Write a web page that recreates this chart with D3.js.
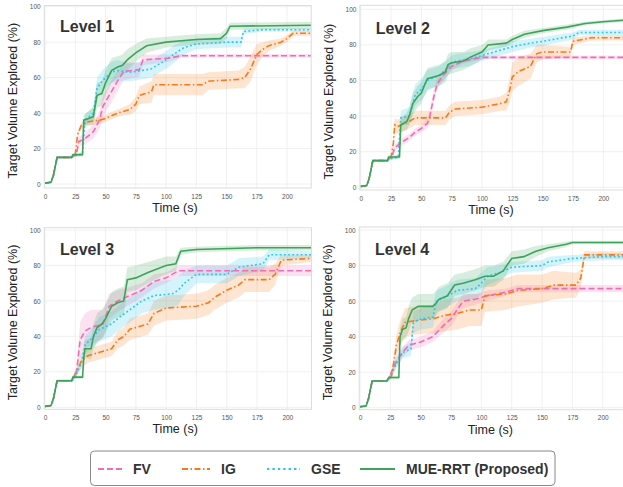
<!DOCTYPE html>
<html>
<head>
<meta charset="utf-8">
<script src="https://cdn.jsdelivr.net/npm/d3@7"></script>
<style>
body { margin: 0; background: #fff; }
svg { display: block; }
text { font-family: "Liberation Sans", Arial, sans-serif; }
</style>
</head>
<body>
<svg id="chart"></svg>
<script>
// each point: [time (s), mean explored (%), spread (%)]
const warmup = [[0,0.5,0],[5,1,0],[7,5,0.5],[10,15,0.5],[22,15,0.5]]

const L1_FV  = [[26,17,1],[28,24,3],[32,25,3],[40,29.5,4],[45,36,5],[48,44,6],[54,51,6],[59,57,6],[65,63.5,5],[78,64.5,4],[81,70,3],[103,71,2],[112,72.3,1],[220,72.3,1]]
const L1_IG  = [[25,17,1],[27,28,2],[30,33,2],[35,35,2],[45,36,2],[50,37,2],[60,40,2],[70,42,3],[75,45,4],[78,50,5],[88,52,6],[90,56,6],[130,56,6],[135,58,5],[160,59,5],[165,60,6],[170,65,7],[175,73,6],[180,76,4],[185,78,3],[195,80,2],[200,82,2],[205,85,1.5],[220,85,1.5]]
const L1_GSE = [[24,16,1],[31,17,1],[33,36,3],[40,40,4],[43,54,6],[46,57,6],[50,60,6],[55,63,6],[60,64,6],[70,63,5],[80,64,5],[88,65,5],[100,70,5],[106,73,5],[115,77,4],[125,79,3],[150,80,3],[162,80,3],[164,86,1.5],[180,87,1],[220,87,1]]
const L1_MUE = [[23,16.5,1],[31,16.5,1],[32,36,3],[36,37,4],[40,38,5],[43,50,7],[47,51,7],[50,57,7],[55,64,7],[60,66,6],[64,67,6],[68,70,6],[75,74,5],[84,78,4],[100,80,3],[125,81.5,3],[145,82,3],[150,85,3],[153,89,2],[220,89.5,2]]

const L2_FV  = [[26,18,1],[28,22,2],[33,25,2],[40,28,2],[45,31,2],[50,33,2],[55,36,3],[57,40,3],[60,50,4],[63,58,3],[68,63,3],[75,68,2],[85,71,1.5],[100,73,1],[220,73,1]]
const L2_IG  = [[25,17,1],[27,25,3],[28,35,4],[30,34,4],[40,37,4],[45,39,4],[70,39,4],[73,42,4],[78,44,4],[100,45,4],[115,47,4],[120,48,5],[123,55,7],[125,62,8],[130,65,8],[140,68,7],[145,75,5],[150,76,4],[173,76,3],[175,82,2],[190,84,1.5],[220,84,1.5]]
const L2_GSE = [[24,16,1],[31,17,1],[33,39,4],[40,40,5],[45,52,6],[50,55,6],[55,60,6],[65,63,5],[70,66,5],[75,70,4],[80,71,4],[90,72,4],[100,74,3],[110,76,3],[125,79,3],[140,81,2.5],[150,82,2.5],[175,85,2],[180,87,1.5],[220,87,1.5]]
const L2_MUE = [[23,17,1],[32,17,1],[33,35,4],[38,37,5],[40,40,5],[43,47,6],[47,51,6],[50,53,6],[53,58,6],[55,61,6],[60,62,6],[65,63,6],[70,65,6],[72,69,6],[75,70,6],[85,71,5],[90,73,5],[100,76,4],[105,80,3],[120,81,2],[125,83,2],[135,86,2],[150,88,1.5],[170,90,1.5],[185,92,1],[200,93,1],[220,94,1]]

const L3_FV  = [[26,20,3],[29,38,10],[33,43,10],[38,45,10],[48,47,8],[53,57,7],[60,60,6],[70,63,5],[80,66,4],[90,71,4],[100,73,3],[110,77,3],[220,77,3]]
const L3_IG  = [[26,20,2],[30,26,4],[35,29,4],[45,31,4],[55,33,4],[60,38,5],[65,40,5],[70,44,6],[80,46,6],[85,47,6],[90,53,7],[100,56,7],[125,57,7],[135,59,7],[140,62,7],[150,66,7],[160,69,7],[165,72,7],[185,72,7],[190,75,6],[195,83,3],[220,84,2]]
const L3_GSE = [[24,16,1],[30,25,3],[33,35,5],[40,40,6],[45,44,7],[55,47,7],[60,50,7],[70,55,7],[80,60,7],[90,63,8],[105,64,8],[110,66,8],[115,70,7],[125,75,5],[150,75,5],[155,77,5],[160,79,5],[180,81,4],[185,86,3],[220,86,2]]
const L3_MUE = [[23,17,1],[31,17,1],[32,28,3],[33,33,5],[38,33,6],[40,40,7],[43,45,8],[47,47,8],[50,50,8],[55,57,8],[60,59,8],[65,60,8],[68,72,7],[75,73,7],[85,76,6],[100,80,5],[108,81,4],[112,88,2],[125,89,1.5],[175,90,1.5],[220,90,1.5]]

const L4_FV  = [[26,20,2],[30,26,3],[35,31,3],[40,35,3],[50,37,3],[60,40,3],[70,47,4],[75,50,4],[80,55,4],[85,60,4],[95,61,3],[105,63,3],[120,65,2],[130,67,2],[150,67,2],[220,67,2]]
const L4_IG  = [[26,18,2],[27,22,4],[30,35,6],[33,42,7],[37,48,8],[45,49,8],[60,50,8],[70,52,9],[80,53,9],[90,55,9],[100,55,9],[103,63,9],[120,64,9],[130,66,9],[150,67,8],[160,69,8],[178,69,7],[182,73,5],[185,86,2],[220,86,2]]
const L4_GSE = [[24,16,1],[30,25,3],[35,31,3],[42,33,4],[44,48,6],[50,50,6],[60,51,6],[63,60,6],[70,62,6],[75,64,6],[80,66,6],[95,67,6],[100,70,6],[105,74,5],[115,76,4],[125,79,3],[150,80,3],[155,82,3],[175,84,2],[200,85,2],[220,85,2]]
const L4_MUE = [[24,17,1],[32,17,1],[33,40,5],[35,44,6],[38,45,6],[40,50,7],[43,55,7],[48,57,7],[60,57,7],[63,59,7],[65,61,7],[72,63,7],[78,69,6],[85,70,6],[95,72,6],[103,74,6],[110,74,6],[118,77,5],[125,84,4],[135,85,4],[145,88,3],[155,90,2],[170,92,1.5],[175,93,1],[220,93,1]]

const methods = ["FV", "IG", "GSE", "MUE-RRT (Proposed)"]
const levels = ["Level 1", "Level 2", "Level 3", "Level 4"]
const xTicks = [0, 25, 50, 75, 100, 125, 150, 175, 200]
const yTicks = [0, 20, 40, 60, 80, 100]

const levelData = [
    [L1_FV, L1_IG, L1_GSE, L1_MUE],
    [L2_FV, L2_IG, L2_GSE, L2_MUE],
    [L3_FV, L3_IG, L3_GSE, L3_MUE],
    [L4_FV, L4_IG, L4_GSE, L4_MUE]
]

const colors = ["#ef6db3", "#f47b1c", "#2cc5eb", "#3da35a"]
const dashes = ["6,3", "6,2.5,1.5,2.5", "1.8,2.4", null]

const frames = [
    {x0: 45,    x200: 287,   y0: 184,   y100: 6.7, top: 5.5,   bottom: 188},
    {x0: 360.7, x200: 603.3, y0: 187.3, y100: 9.3, top: 5.3,   bottom: 190},
    {x0: 45,    x200: 287.3, y0: 407.3, y100: 230, top: 227.7, bottom: 409.3},
    {x0: 360,   x200: 602.7, y0: 407.7, y100: 230, top: 227,   bottom: 409.7}
]

const svg = d3.select("#chart").attr("width", 623).attr("height", 487)

frames.forEach((f, i) => {
    const xScale = d3.scaleLinear().domain([0, 220]).range([f.x0, f.x0 + (f.x200 - f.x0) * 1.1])
    const yScale = d3.scaleLinear().domain([0, 100]).range([f.y0, f.y100])
    const left = f.x0 - 0.8, right = xScale(220)
    const g = svg.append("g")

    g.append("clipPath").attr("id", "clip" + i)
        .append("rect").attr("x", left).attr("y", f.top).attr("width", right - left).attr("height", f.bottom - f.top)

    // grid
    g.selectAll(".vgrid").data(xTicks).join("line")
        .attr("x1", d => xScale(d)).attr("x2", d => xScale(d))
        .attr("y1", f.top).attr("y2", f.bottom)
        .attr("stroke", "#ececec").attr("stroke-width", 0.8)
    g.selectAll(".hgrid").data(yTicks).join("line")
        .attr("x1", left).attr("x2", right)
        .attr("y1", d => yScale(d)).attr("y2", d => yScale(d))
        .attr("stroke", "#ececec").attr("stroke-width", 0.8)

    // axes
    const xAxis = g.append("g")
        .attr("transform", `translate(0, ${f.bottom})`)
        .call(d3.axisBottom(xScale).tickValues(xTicks).tickSize(0).tickPadding(6))
    const yAxis = g.append("g")
        .attr("transform", `translate(${left}, 0)`)
        .call(d3.axisLeft(yScale).tickValues(yTicks).tickSize(0).tickPadding(3.5))
    ;[xAxis, yAxis].forEach(a => {
        a.select(".domain").remove()
        a.selectAll("text").attr("font-size", 6.5).attr("fill", "#555").style("font-family", "'Liberation Sans', Arial, sans-serif")
    })

    const plot = g.append("g").attr("clip-path", `url(#clip${i})`)
    const series = levelData[i].map(s => warmup.concat(s))

    const area = d3.area()
        .x(d => xScale(d[0]))
        .y0(d => yScale(Math.max(0, d[1] - d[2])))
        .y1(d => yScale(Math.min(100, d[1] + d[2])))
    const line = d3.line().x(d => xScale(d[0])).y(d => yScale(d[1]))

    plot.selectAll(".band").data(series).join("path")
        .attr("d", area)
        .attr("fill", (d, k) => colors[k])
        .attr("fill-opacity", 0.2)

    plot.selectAll(".mean").data(series).join("path")
        .attr("d", line)
        .attr("fill", "none")
        .attr("stroke", (d, k) => colors[k])
        .attr("stroke-width", 1.6)
        .attr("stroke-dasharray", (d, k) => dashes[k])

    // frame
    g.append("rect").attr("x", left).attr("y", f.top).attr("width", right - left).attr("height", f.bottom - f.top)
        .attr("fill", "none").attr("stroke", "#dcdcdc").attr("stroke-width", 1)

    g.append("text")
        .attr("x", f.x0 + 15).attr("y", yScale(100) + 25)
        .attr("font-size", 16).attr("font-weight", "bold").attr("fill", "#333")
        .text(levels[i])

    g.append("text")
        .attr("x", (f.x0 + f.x200) / 2 + 9).attr("y", f.bottom + 24)
        .attr("text-anchor", "middle").attr("font-size", 12.5).attr("fill", "#222")
        .text("Time (s)")

    const ly = (f.top + f.bottom) / 2 + 4
    const lx = f.x0 - 28
    g.append("text")
        .attr("transform", `translate(${lx}, ${ly}) rotate(-90)`)
        .attr("text-anchor", "middle").attr("font-size", 12.5).attr("fill", "#222")
        .text("Target Volume Explored (%)")
})

// legend
const legend = svg.append("g")
legend.append("rect")
    .attr("x", 90.5).attr("y", 451).attr("width", 464.5).attr("height", 34.5).attr("rx", 4)
    .attr("fill", "#fff").attr("stroke", "#888").attr("stroke-width", 1)

const legendX = [98, 182, 267, 360]
const legendLen = [24, 28, 33, 35]
methods.forEach((m, k) => {
    legend.append("line")
        .attr("x1", legendX[k]).attr("x2", legendX[k] + legendLen[k])
        .attr("y1", 469).attr("y2", 469)
        .attr("stroke", colors[k]).attr("stroke-width", 2)
        .attr("stroke-dasharray", k === 2 ? "2.4,3" : dashes[k])
    legend.append("text")
        .attr("x", legendX[k] + legendLen[k] + 11).attr("y", 474)
        .attr("font-size", 14).attr("font-weight", "bold").attr("fill", "#333")
        .text(m)
})
</script>
</body>
</html>
